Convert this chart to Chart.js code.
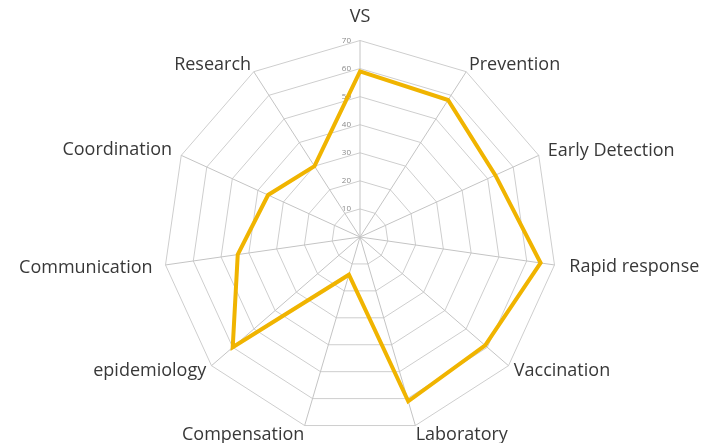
<!DOCTYPE html>
<html>
<head>
<meta charset="utf-8">
<script src="https://cdn.jsdelivr.net/npm/chart.js@4/dist/chart.umd.min.js"></script>
<style>
  body { margin: 0; background: #fff; }
  /* visible window */
  #view { width: 715px; height: 443px; overflow: hidden; position: relative; }
  /* the canvas is a little taller than the window so the web can be as big as in the original */
  #wrap { position: absolute; left: 0; top: -3px; width: 715px; height: 459px; }
</style>
</head>
<body>
<div id="view"><div id="wrap"><canvas id="myChart"></canvas></div></div>
<script>
// Axis categories (clockwise from top)
const categories = ['VS', 'Prevention', 'Early Detection', 'Rapid response', 'Vaccination',
    'Laboratory', 'Compensation', 'epidemiology', 'Communication', 'Coordination', 'Research'];

// Series values
const scores = [59, 58, 53, 65, 59, 61, 14, 60, 44, 36, 30];

// Radial tick labels
const tickValues = [10, 20, 30, 40, 50, 60, 70];

// Label styling per axis (gap from the web, and line box height that nudges the text up/down)
const labelPadding = [15, 5, 10, 15, 7, 1, 1, 7, 13, 10, 5];
const labelLineHeight = ['17.5px', '5px', '1px', '0.5px', '0.5px', '17.5px', '17.5px', '0.5px', '2px', '2px', '5px'];

// Draw the tick numbers just left of the vertical axis, like the original
const tickLabelPlugin = {
    id: 'tickLabels',
    beforeDatasetsDraw(chart) {
        const scale = chart.scales.r;
        const ctx = chart.ctx;
        ctx.save();
        ctx.font = '8px "Open Sans"';
        ctx.fillStyle = '#8a8a8a';
        ctx.textAlign = 'right';
        ctx.textBaseline = 'middle';
        tickValues.forEach(v => {
            const d = scale.getDistanceFromCenterForValue(v);
            ctx.fillText(String(v), scale.xCenter - 9, scale.yCenter - d);
        });
        ctx.restore();
    }
};

const ctx = document.getElementById('myChart').getContext('2d');

const myChart = new Chart(ctx, {
    type: 'radar',
    data: {
        labels: categories,
        datasets: [{
            label: 'Score',
            data: scores,
            borderColor: '#F0B400',
            borderWidth: 4,
            fill: false,
            pointRadius: 0,
            tension: 0
        }]
    },
    options: {
        responsive: true,
        maintainAspectRatio: false,
        animation: false,
        layout: { padding: { top: 0, bottom: 0, left: 5, right: 0 } },
        plugins: {
            legend: { display: false },
            tooltip: { enabled: false }
        },
        scales: {
            r: {
                min: 0,
                max: 70,
                ticks: { stepSize: 10, display: false },
                grid: { color: '#cecece', lineWidth: 1 },
                angleLines: { color: '#c4c4c4', lineWidth: 1 },
                pointLabels: {
                    font: (c) => ({ family: 'Open Sans', size: 18, lineHeight: labelLineHeight[c.index] }),
                    color: '#383838',
                    padding: (c) => labelPadding[c.index]
                }
            }
        }
    },
    plugins: [tickLabelPlugin]
});
</script>
</body>
</html>
